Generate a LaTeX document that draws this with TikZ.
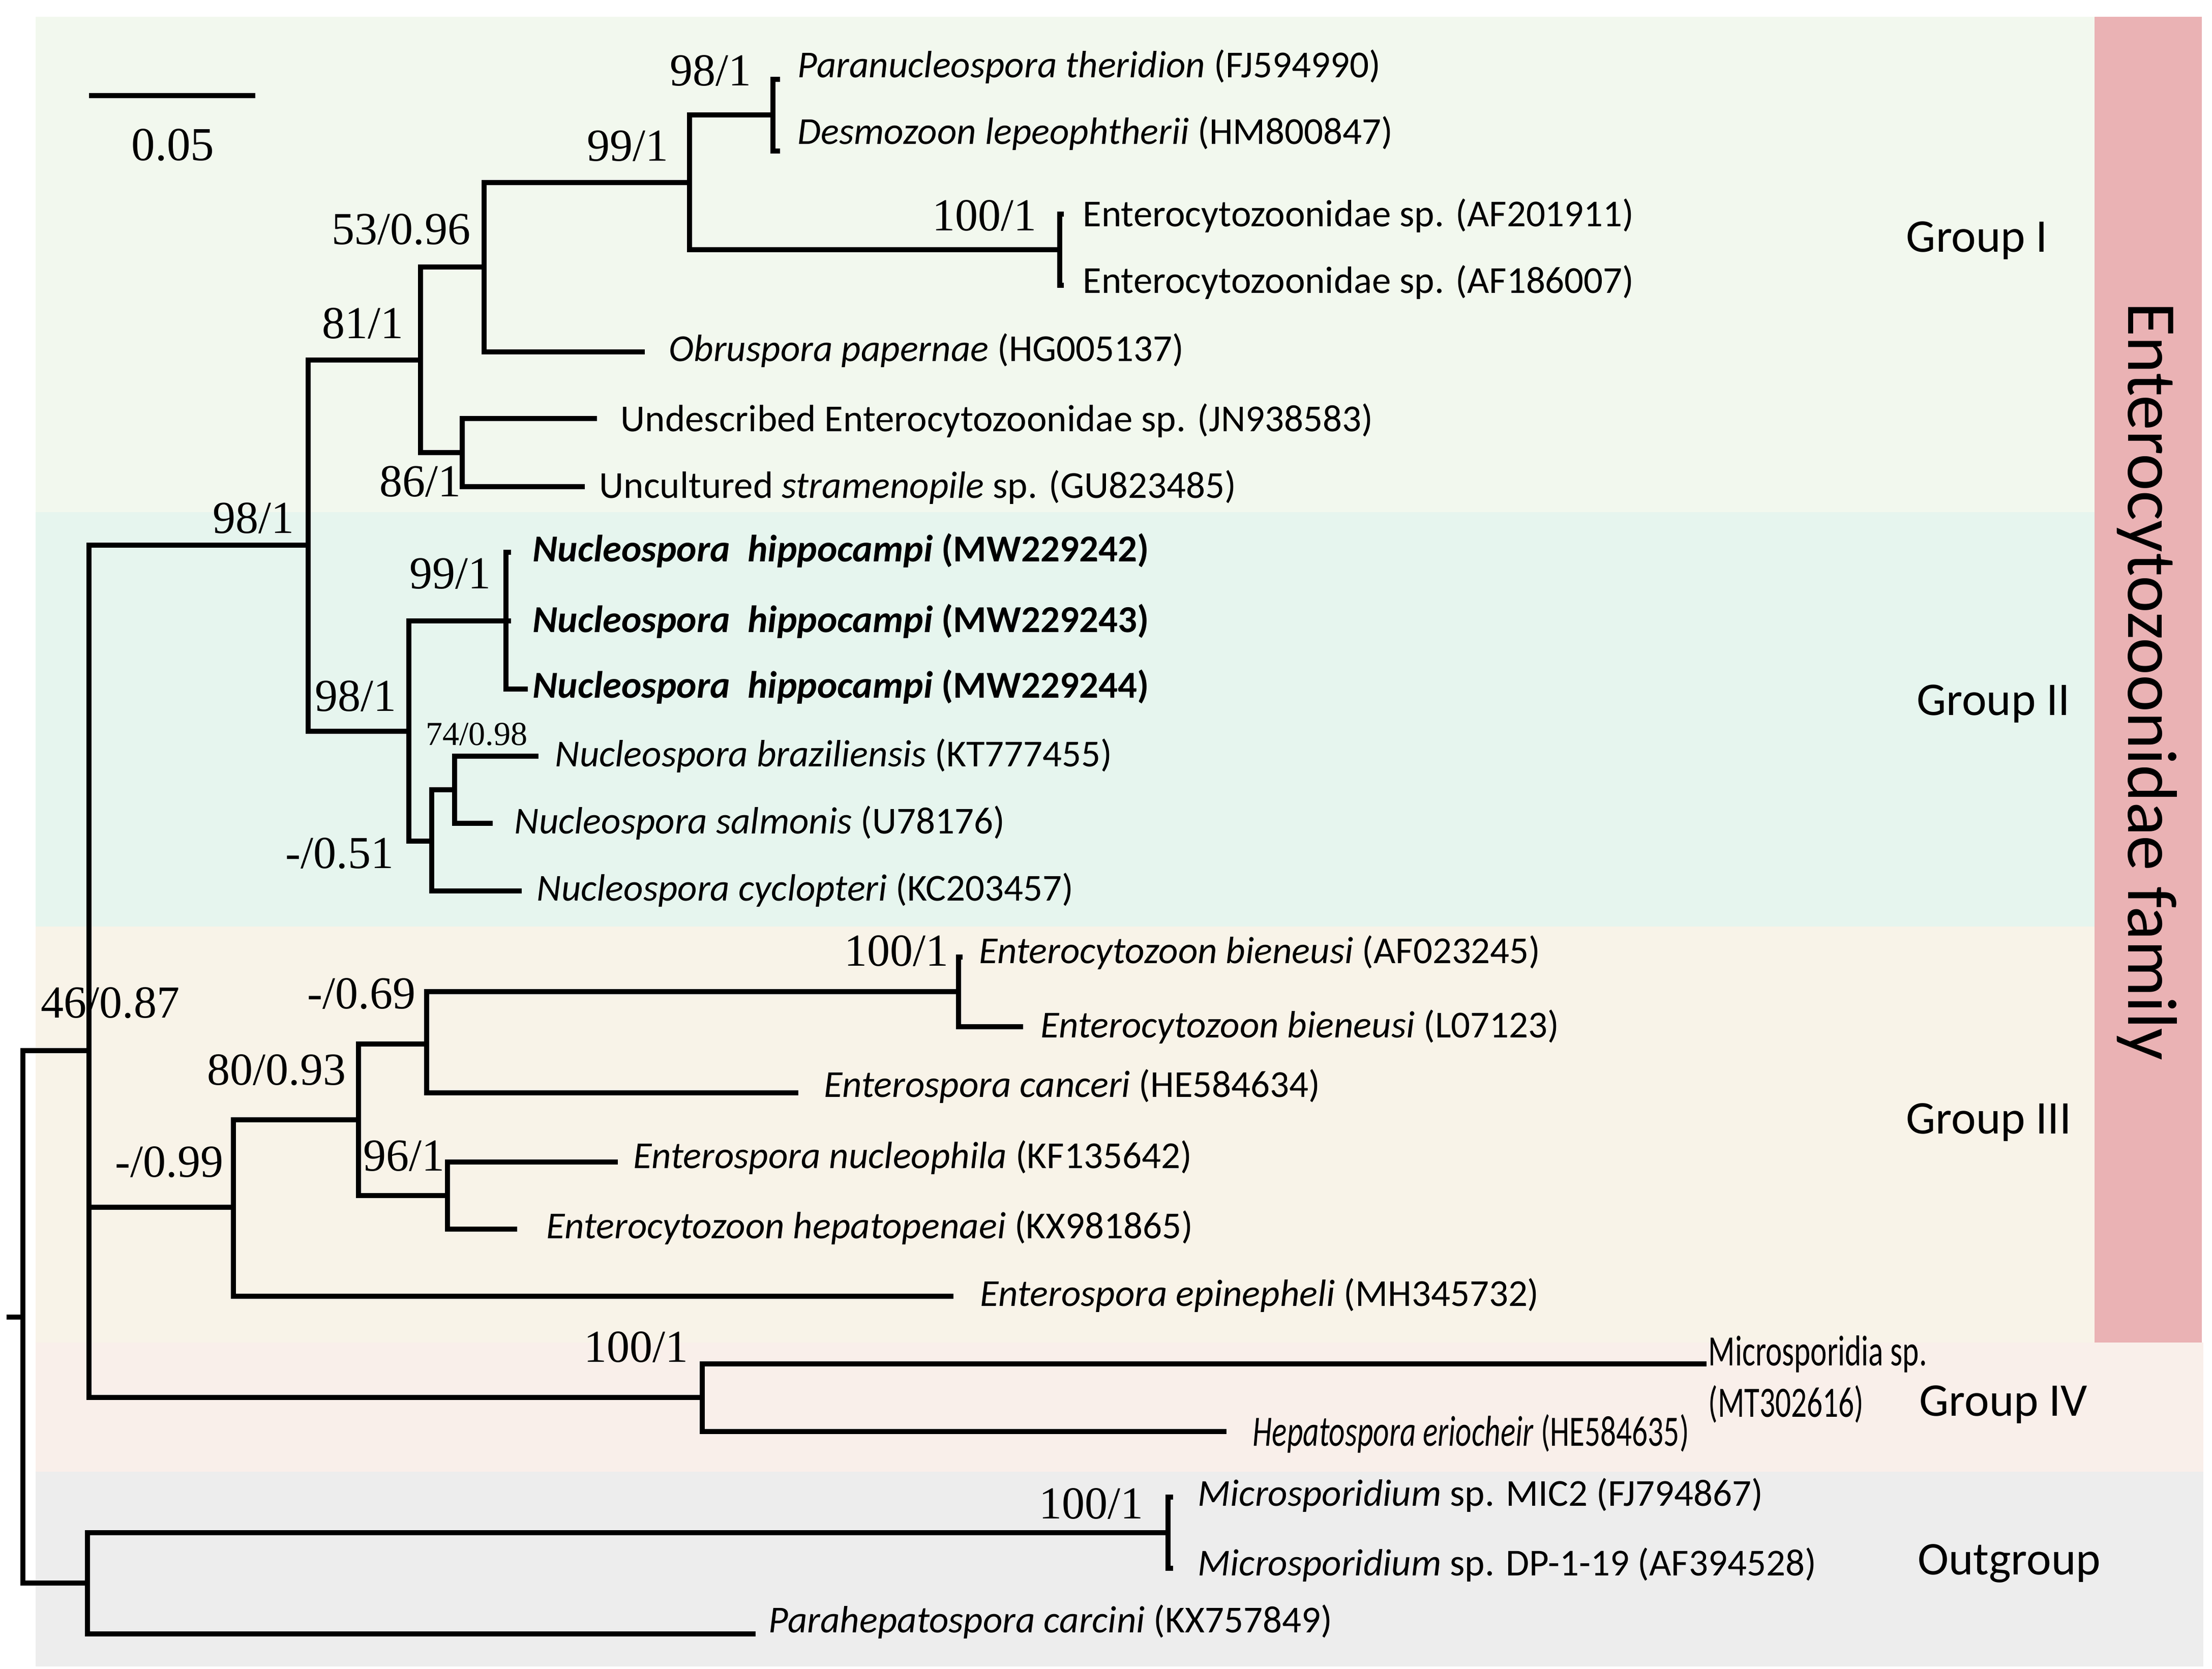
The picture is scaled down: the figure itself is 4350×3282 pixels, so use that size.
\documentclass[tikz,border=0pt]{standalone}
\usepackage{fontspec}
\setmainfont{Carlito}
\newfontfamily\numfont{Liberation Serif}
\newfontfamily\narrowfont[FakeStretch=0.72]{Carlito}
\definecolor{grpone}{HTML}{F2F8EE}
\definecolor{grptwo}{HTML}{E6F5EE}
\definecolor{grpthree}{HTML}{F8F3E8}
\definecolor{grpfour}{HTML}{F9EFEA}
\definecolor{grpout}{HTML}{EDEDED}
\definecolor{famred}{HTML}{EAB2B4}
\begin{document}
\begin{tikzpicture}[x=0.01cm,y=-0.01cm,
  branch/.style={line width=0.107cm},
  taxon/.style={anchor=base west,inner sep=0pt,font=\fontsize{21.3}{25}\selectfont},
  narrowtaxon/.style={anchor=base west,inner sep=0pt,font=\narrowfont\fontsize{24.2}{28}\selectfont},
  support/.style={anchor=base east,inner sep=0pt,font=\numfont\fontsize{25.6}{30}\selectfont},
  grouplabel/.style={anchor=base,inner sep=0pt,font=\fontsize{26.2}{31}\selectfont}]

\useasboundingbox (0,0) rectangle (4350,3282);
\fill[white] (0,0) rectangle (4350,3282);

\fill[grpone] (70,33) rectangle (4119,1007);
\fill[grptwo] (70,1007) rectangle (4119,1822);
\fill[grpthree] (70,1822) rectangle (4119,2640);
\fill[grpfour] (70,2640) rectangle (4333,2894);
\fill[grpout] (70,2894) rectangle (4333,3277);
\fill[famred] (4119,33) rectangle (4330,2640);

\coordinate (sbl) at (175,188);
\coordinate (sbr) at (502,188);
\draw[branch] (sbl) -- (sbr);
\node[anchor=base,inner sep=0pt,font=\numfont\fontsize{26.5}{30}\selectfont] (sblabel) at (340,316) {0.05};

\coordinate (rootstub) at (13,2590);
\coordinate (root) at (45,2590);
\coordinate (n46) at (175,2066);
\coordinate (nout) at (172,3113);
\coordinate (nmic) at (2297,3014);
\coordinate (ng4) at (1381,2748);
\coordinate (n99c) at (459,2374);
\coordinate (n93) at (705,2202);
\coordinate (n69) at (839,2053);
\coordinate (nbie) at (1885,1950);
\coordinate (n96) at (880,2351);
\coordinate (n98top) at (606,1072);
\coordinate (n81) at (827,708);
\coordinate (n53) at (952,525);
\coordinate (n99) at (1356,359);
\coordinate (n98a) at (1520,226);
\coordinate (n100a) at (2084,491);
\coordinate (n86) at (909,890);
\coordinate (n98b) at (804,1438);
\coordinate (n99b) at (995,1221);
\coordinate (n51) at (849,1654);
\coordinate (n74) at (894,1553);

\coordinate (para1) at (1534,156);
\coordinate (desm) at (1534,297);
\coordinate (ent1) at (2092,421);
\coordinate (ent2) at (2092,561);
\coordinate (obru) at (1268,692);
\coordinate (undes) at (1174,823);
\coordinate (uncult) at (1150,957);
\coordinate (hip1) at (1005,1086);
\coordinate (hip2) at (1005,1221);
\coordinate (hip3) at (1038,1355);
\coordinate (braz) at (1059,1487);
\coordinate (salm) at (969,1619);
\coordinate (cycl) at (1026,1752);
\coordinate (bie1) at (1893,1882);
\coordinate (bie2) at (2012,2019);
\coordinate (canc) at (1570,2149);
\coordinate (nucl) at (1215,2285);
\coordinate (hepa) at (1017,2417);
\coordinate (epin) at (1875,2549);
\coordinate (micro) at (3356,2682);
\coordinate (hepato) at (2412,2815);
\coordinate (mic2) at (2307,2944);
\coordinate (dp) at (2307,3084);
\coordinate (para) at (1486,3213);

\draw[branch] (rootstub) -- (root);
\draw[branch] (n46) -| (root) |- (nout);
\draw[branch] (nmic) -| (nout) |- (para);
\draw[branch] (mic2) -| (nmic) |- (dp);
\draw[branch] (n98top) -| (n46) |- (ng4);
\draw[branch] (n46) |- (n99c);
\draw[branch] (micro) -| (ng4) |- (hepato);
\draw[branch] (n93) -| (n99c) |- (epin);
\draw[branch] (n69) -| (n93) |- (n96);
\draw[branch] (nbie) -| (n69) |- (canc);
\draw[branch] (bie1) -| (nbie) |- (bie2);
\draw[branch] (nucl) -| (n96) |- (hepa);
\draw[branch] (n81) -| (n98top) |- (n98b);
\draw[branch] (n53) -| (n81) |- (n86);
\draw[branch] (n99) -| (n53) |- (obru);
\draw[branch] (n98a) -| (n99) |- (n100a);
\draw[branch] (para1) -| (n98a) |- (desm);
\draw[branch] (ent1) -| (n100a) |- (ent2);
\draw[branch] (undes) -| (n86) |- (uncult);
\draw[branch] (n99b) -| (n98b) |- (n51);
\draw[branch] (hip1) -| (n99b) |- (hip3);
\draw[branch] (n99b) -- (hip2);
\draw[branch] (n74) -| (n51) |- (cycl);
\draw[branch] (braz) -| (n74) |- (salm);

\node[support] (s98a) at (1478,169) {98/1};
\node[support] (s99) at (1315,317) {99/1};
\node[support] (s100a) at (2039,454) {100/1};
\node[support] (s53) at (926,481) {53/0.96};
\node[support] (s81) at (794,666) {81/1};
\node[support] (s86) at (907,976) {86/1};
\node[support] (s98top) at (579,1048) {98/1};
\node[support] (s99b) at (966,1157) {99/1};
\node[support] (s98b) at (780,1398) {98/1};
\node[support,font=\numfont\fontsize{18.8}{22}\selectfont] (s74) at (1038,1465) {74/0.98};
\node[support] (s51) at (775,1707) {-/0.51};
\node[support] (s46) at (354,2001) {46/0.87};
\node[support] (s69) at (818,1983) {-/0.69};
\node[support] (s100bie) at (1866,1899) {100/1};
\node[support] (s93) at (681,2133) {80/0.93};
\node[support] (s96) at (875,2302) {96/1};
\node[support] (s99c) at (440,2314) {-/0.99};
\node[support] (s100g4) at (1354,2678) {100/1};
\node[support] (s100out) at (2249,2986) {100/1};

\node[taxon] (lpara1) at (1568,153) {\textit{Paranucleospora theridion} (FJ594990)};
\node[taxon] (ldesm) at (1568,284) {\textit{Desmozoon lepeophtherii} (HM800847)};
\node[taxon] (lent1) at (2129,446) {Enterocytozoonidae sp. (AF201911)};
\node[taxon] (lent2) at (2129,577) {Enterocytozoonidae sp. (AF186007)};
\node[taxon] (lobru) at (1315,711) {\textit{Obruspora papernae} (HG005137)};
\node[taxon] (lundes) at (1220,848) {Undescribed Enterocytozoonidae sp. (JN938583)};
\node[taxon] (luncult) at (1178,979) {Uncultured \textit{stramenopile} sp. (GU823485)};
\node[taxon] (lhip1) at (1047,1104) {\bfseries\textit{Nucleospora\ \ hippocampi} (MW229242)};
\node[taxon] (lhip2) at (1047,1243) {\bfseries\textit{Nucleospora\ \ hippocampi} (MW229243)};
\node[taxon] (lhip3) at (1047,1372) {\bfseries\textit{Nucleospora\ \ hippocampi} (MW229244)};
\node[taxon] (lbraz) at (1091,1507) {\textit{Nucleospora braziliensis} (KT777455)};
\node[taxon] (lsalm) at (1011,1639) {\textit{Nucleospora salmonis} (U78176)};
\node[taxon] (lcycl) at (1055,1771) {\textit{Nucleospora cyclopteri} (KC203457)};
\node[taxon] (lbie1) at (1925,1894) {\textit{Enterocytozoon bieneusi} (AF023245)};
\node[taxon] (lbie2) at (2046,2040) {\textit{Enterocytozoon bieneusi} (L07123)};
\node[taxon] (lcanc) at (1620,2157) {\textit{Enterospora canceri} (HE584634)};
\node[taxon] (lnucl) at (1245,2297) {\textit{Enterospora nucleophila} (KF135642)};
\node[taxon] (lhepa) at (1074,2435) {\textit{Enterocytozoon hepatopenaei} (KX981865)};
\node[taxon] (lepin) at (1927,2568) {\textit{Enterospora epinepheli} (MH345732)};
\node[narrowtaxon] (lmicro) at (3359,2685) {Microsporidia sp.};
\node[narrowtaxon] (lmicroacc) at (3359,2786) {(MT302616)};
\node[narrowtaxon] (lhepato) at (2463,2843) {\textit{Hepatospora eriocheir} (HE584635)};
\node[taxon] (lmic2) at (2355,2961) {\textit{Microsporidium} sp. MIC2 (FJ794867)};
\node[taxon] (ldp) at (2355,3098) {\textit{Microsporidium} sp. DP-1-19 (AF394528)};
\node[taxon] (lpara) at (1511,3210) {\textit{Parahepatospora carcini} (KX757849)};

\node[grouplabel] (g1) at (3888,496) {Group I};
\node[grouplabel] (g2) at (3920,1406) {Group II};
\node[grouplabel] (g3) at (3911,2229) {Group III};
\node[grouplabel] (g4) at (3940,2784) {Group IV};
\node[grouplabel] (gout) at (3951,3096) {Outgroup};
\node[rotate=-90,inner sep=0pt,font=\fontsize{39.3}{45}\selectfont] (fam) at (4222,1340) {Enterocytozoonidae family};
\end{tikzpicture}
\end{document}
